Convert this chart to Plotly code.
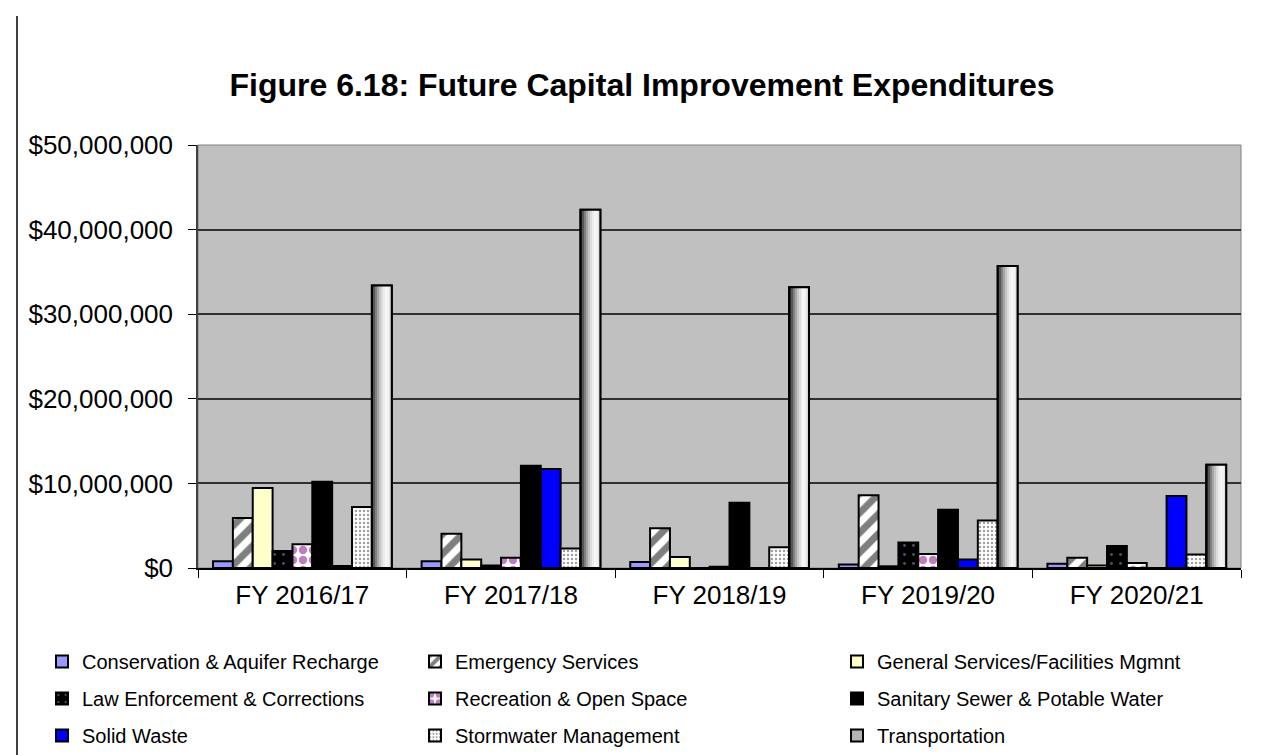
import plotly.graph_objects as go

# Datos (dólares)
fiscal_years = ["FY 2016/17", "FY 2017/18", "FY 2018/19", "FY 2019/20", "FY 2020/21"]

conservation = [800000, 800000, 700000, 400000, 500000]
emergency = [5900000, 4050000, 4700000, 8600000, 1200000]
general_services = [9450000, 1000000, 1300000, 200000, 300000]
law_enforcement = [2000000, 300000, 0, 3000000, 2600000]
recreation = [2800000, 1200000, 150000, 1650000, 600000]
sanitary_sewer = [10200000, 12100000, 7700000, 6900000, 0]
solid_waste = [250000, 11700000, 0, 1000000, 8500000]
stormwater = [7200000, 2300000, 2450000, 5600000, 1600000]
transportation = [33400000, 42350000, 33200000, 35700000, 12200000]

FONT = "Arial, Liberation Sans, sans-serif"
W, H = 1268, 755
M_L, M_R, M_T, M_B = 190, 35, 137, 195

# ancho de cada barra dentro de la categoria (unidades de categoria)
BAR_W = 0.0952
START = -0.428

series = [
    # nombre, valores, color, patron, leyenda
    ("Conservation & Aquifer Recharge", conservation, "#9999ff", None, "legend"),
    ("Emergency Services", emergency, "#ffffff",
     dict(shape="/", fgcolor="#000000", size=14, solidity=0.5), "legend2"),
    ("General Services/Facilities Mgmnt", general_services, "#ffffcc", None, "legend3"),
    ("Law Enforcement & Corrections", law_enforcement, "#000000",
     dict(shape=".", fgcolor="#a0a0d8", size=9, solidity=0.08), "legend"),
    ("Recreation & Open Space", recreation, "#ffffff",
     dict(shape=".", fgcolor="#800080", size=10, solidity=0.55), "legend2"),
    ("Sanitary Sewer & Potable Water", sanitary_sewer, "#000000", None, "legend3"),
    ("Solid Waste", solid_waste, "#0000ff", None, "legend"),
    ("Stormwater Management", stormwater, "#ffffff",
     dict(shape=".", fgcolor="#404040", size=4, solidity=0.3), "legend2"),
    ("Transportation", transportation, "#b4b4b4", None, "legend3"),
]

fig = go.Figure()

for i, (name, values, color, pattern, leg) in enumerate(series):
    marker = dict(color=color, line=dict(color="#000000", width=2))
    if pattern:
        marker["pattern"] = pattern
    fig.add_trace(go.Bar(
        x=fiscal_years, y=values, name=name,
        offset=START + i * BAR_W, width=BAR_W,
        marker=marker, legend=leg, legendgroup=name,
    ))

# Degradado horizontal de la barra de Transportation (franjas)
grad = ["#2c2c2c", "#565656", "#808080", "#a6a6a6", "#c4c4c4",
        "#dcdcdc", "#ececec", "#f6f6f6", "#f2f2f2", "#e2e2e2"]
t_off = START + 8 * BAR_W
n = len(grad)
for k, c in enumerate(grad):
    fig.add_trace(go.Bar(
        x=fiscal_years, y=transportation, showlegend=False,
        offset=t_off + k * BAR_W / n, width=BAR_W / n,
        marker=dict(color=c, line=dict(width=0)),
        legendgroup="Transportation", hoverinfo="skip",
    ))
# contorno encima del degradado
fig.add_trace(go.Bar(
    x=fiscal_years, y=transportation, showlegend=False,
    offset=t_off, width=BAR_W,
    marker=dict(color="rgba(0,0,0,0)", line=dict(color="#000000", width=2)),
    legendgroup="Transportation", hoverinfo="skip",
))

plot_w = W - M_L - M_R
plot_h = H - M_T - M_B


def px_x(p):
    return (p - M_L) / plot_w


def px_y(p):
    return (H - M_B - p) / plot_h


legend_base = dict(
    orientation="v", xanchor="left",
    yanchor="top", y=px_y(634), tracegroupgap=8,
    font=dict(family=FONT, size=20, color="#000000"),
    bgcolor="rgba(0,0,0,0)", itemclick=False,
)

fig.update_layout(
    width=W, height=H,
    margin=dict(l=M_L, r=M_R, t=M_T, b=M_B, autoexpand=False),
    paper_bgcolor="#ffffff",
    plot_bgcolor="#c0c0c0",
    barmode="group",
    title=dict(
        text="Figure 6.18: Future Capital Improvement Expenditures",
        font=dict(family=FONT, size=32, color="#000000", weight="bold"),
        x=0.5, xref="container", xanchor="center",
        y=1 - 77 / H, yref="container", yanchor="middle",
    ),
    xaxis=dict(
        range=[-0.5, 4.5],
        showgrid=False,
        tickson="boundaries",
        ticks="outside", ticklen=8, tickcolor="#000000", tickwidth=1,
        showline=True, linecolor="#000000", linewidth=1.5,
        tickfont=dict(family=FONT, size=26, color="#000000"),
        tickangle=0,
        ticklabelstandoff=3,
    ),
    yaxis=dict(
        range=[0, 50000000], dtick=10000000,
        tickformat=",.0f", tickprefix="$",
        showgrid=True, gridcolor="#303030", gridwidth=1.5,
        zeroline=False,
        ticks="outside", ticklen=8, tickcolor="#000000", tickwidth=1,
        showline=True, linecolor="#404040", linewidth=1.5,
        tickfont=dict(family=FONT, size=26, color="#000000"),
        ticklabelstandoff=10,
    ),
    legend=dict(legend_base, x=px_x(34)),
    legend2=dict(legend_base, x=px_x(407)),
    legend3=dict(legend_base, x=px_x(829)),
    showlegend=True,
    shapes=[
        # borde gris del area de trazado
        dict(type="rect", xref="paper", yref="paper", x0=0, x1=1, y0=0, y1=1,
             line=dict(color="#808080", width=1), layer="below"),
        # linea vertical del documento a la izquierda
        dict(type="line", xref="paper", yref="paper",
             x0=px_x(9), x1=px_x(9), y0=px_y(8), y1=px_y(H),
             line=dict(color="#000000", width=1.5)),
    ],
)

fig.write_html("out.html")
